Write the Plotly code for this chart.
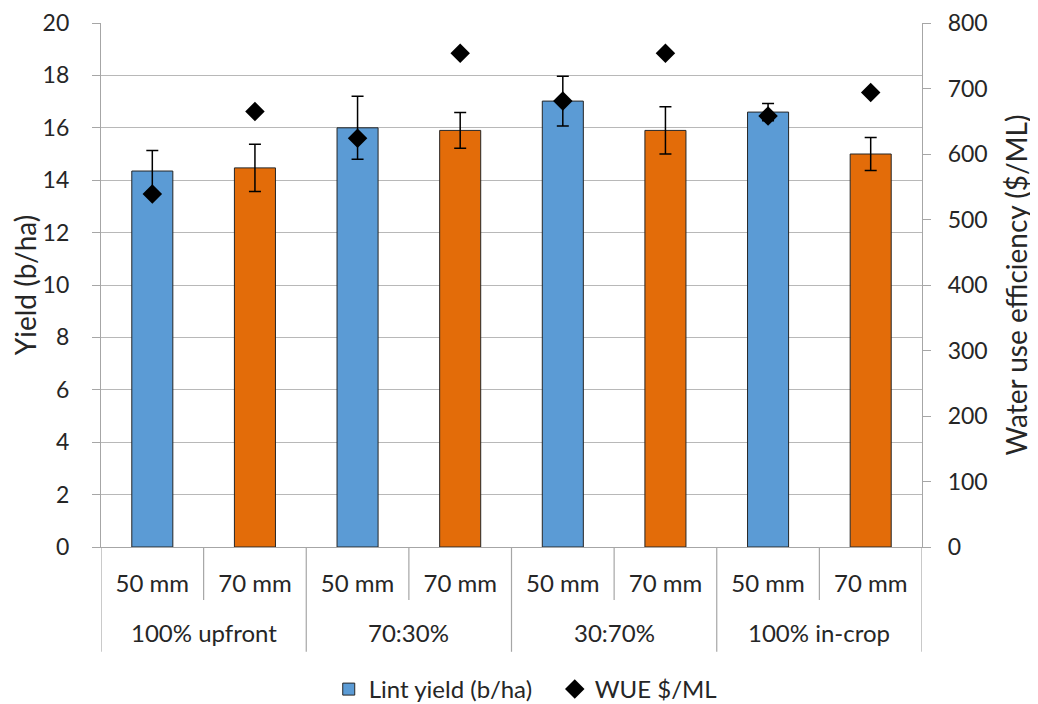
import plotly.graph_objects as go

groups = ["100% upfront", "70:30%", "30:70%", "100% in-crop"]
subs = ["50 mm", "70 mm"]
sub_labels = ["50 mm", "70 mm", "50 mm", "70 mm", "50 mm", "70 mm", "50 mm", "70 mm"]
lint_yield = [14.35, 14.47, 16.0, 15.9, 17.02, 15.9, 16.6, 15.0]
yield_err = [0.78, 0.9, 1.2, 0.68, 0.95, 0.9, 0.33, 0.63]
wue = [539, 665, 624, 754, 681, 754, 658, 694]
bar_colors = ["#5B9BD5", "#E36C09"] * 4

FONT = "Lato"
TXT = "#262626"
GRID = "#B8B8B8"
AX = "#A6A6A6"

idx = list(range(len(lint_yield)))

fig = go.Figure()
fig.add_trace(go.Bar(
    x=idx, y=lint_yield, name="Lint yield (b/ha)",
    marker=dict(color=bar_colors, line=dict(color="#262626", width=1)),
    width=0.4,
    error_y=dict(type="data", array=yield_err, visible=True, color="#000000",
                 thickness=1.5, width=6),
))
fig.add_trace(go.Scatter(
    x=idx, y=wue, name="WUE $/ML", yaxis="y2", mode="markers",
    marker=dict(symbol="diamond", size=15, color="#000000"),
))

# category dividers
n = len(lint_yield)
for i in range(n + 1):
    xpos = i - 0.5
    outer = (i % 2 == 0)
    fig.add_shape(type="line", xref="x", yref="paper", x0=xpos, x1=xpos,
                  y0=0, y1=-0.2 if outer else -0.101,
                  line=dict(color=AX, width=1.2))

# group labels
for g, name in enumerate(groups):
    fig.add_annotation(x=2 * g + 0.5, xref="x", y=-0.164, yref="paper",
                       text=name, showarrow=False, yanchor="middle",
                       font=dict(family=FONT, size=24, color=TXT))

fig.update_layout(
    width=1038, height=704,
    margin=dict(l=93, r=124, t=15, b=165, autoexpand=False),
    plot_bgcolor="white", paper_bgcolor="white",
    font=dict(family=FONT, size=24, color=TXT),
    showlegend=True,
    legend=dict(orientation="h", x=0.309, xref="container", xanchor="left",
                y=10, yref="container", yanchor="middle",
                entrywidth=181, entrywidthmode="pixels",
                font=dict(family=FONT, size=24, color=TXT)),
    xaxis=dict(range=[-0.5, n - 0.5], tickvals=idx, ticktext=sub_labels,
               showgrid=False, zeroline=False, showline=True, linecolor=AX,
               linewidth=1.2, ticks="", ticklabelstandoff=15, automargin=False,
               tickfont=dict(family=FONT, size=24, color=TXT)),
    yaxis=dict(range=[0, 20], dtick=2, showgrid=True, gridcolor=GRID,
               gridwidth=1.2, zeroline=False, showline=True, linecolor=AX,
               linewidth=1.2, ticks="outside", ticklen=8, tickcolor=AX,
               ticklabelstandoff=18, automargin=False, ticklabeloverflow="allow",
               tickfont=dict(family=FONT, size=23, color=TXT),
               title=dict(text="Yield (b/ha)", font=dict(family=FONT, size=28, color=TXT),
                          standoff=14)),
    yaxis2=dict(range=[0, 800], dtick=100, overlaying="y", side="right",
                showgrid=False, zeroline=False, showline=True, linecolor=AX,
                linewidth=1.2, ticks="outside", ticklen=8, tickcolor=AX,
                ticklabelstandoff=12, automargin=False, ticklabeloverflow="allow",
                tickfont=dict(family=FONT, size=23, color=TXT),
                title=dict(text="Water use efficiency ($/ML)",
                           font=dict(family=FONT, size=28, color=TXT), standoff=20)),
)

fig.write_html("out.html")
